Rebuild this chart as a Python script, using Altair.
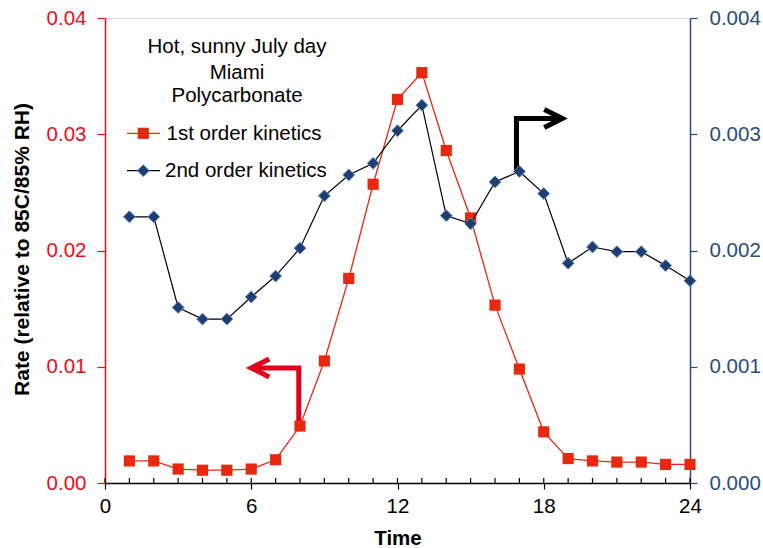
import altair as alt
import pandas as pd

# Hourly degradation rate for polycarbonate on a hot, sunny July day in Miami
hours = list(range(1, 25))
first_order = [0.0019, 0.0019, 0.0012, 0.0011, 0.0011, 0.0012, 0.0020, 0.0049,
               0.0105, 0.0176, 0.0257, 0.0330, 0.0353, 0.0286, 0.0228, 0.0153,
               0.0098, 0.0044, 0.0021, 0.0019, 0.0018, 0.0018, 0.0016, 0.0016]
second_order = [0.00229, 0.00229, 0.00151, 0.00141, 0.00141, 0.00160, 0.00178, 0.00202,
                0.00247, 0.00265, 0.00275, 0.00303, 0.00325, 0.00230, 0.00223, 0.00259,
                0.00268, 0.00249, 0.00189, 0.00203, 0.00199, 0.00199, 0.00187, 0.00174]

x_ticks = [0, 6, 12, 18, 24]
minor_ticks = list(range(0, 25))
left_ticks = [0.0, 0.01, 0.02, 0.03, 0.04]
right_ticks = [0.0, 0.001, 0.002, 0.003, 0.004]

# Pointer arrows: which axis each curve belongs to
red_arrow_x = [7.95, 7.95, 6.0]
red_arrow_y = [0.0053, 0.0099, 0.0099]
black_arrow_x = [16.88, 16.88, 18.76]
black_arrow_y = [0.00268, 0.003135, 0.003135]

note_lines = ["Hot, sunny July day", "Miami", "Polycarbonate"]
series_names = ["1st order kinetics", "2nd order kinetics"]

RED = "#E8290F"
AXIS_RED = "#E8101A"
NAVY = "#1F3E6E"
EDGE_BLUE = "#5B8BC9"
AXIS_BLUE = "#2B4C7E"
FONT = "Liberation Sans"
W, H = 585, 465

df = pd.DataFrame({"hour": hours, "first": first_order, "second": second_order})
red_arrow = pd.DataFrame({"hour": red_arrow_x, "first": red_arrow_y, "k": [0, 1, 2]})
black_arrow = pd.DataFrame({"hour": black_arrow_x, "second": black_arrow_y, "k": [0, 1, 2]})
minor_df = pd.DataFrame({"hour": minor_ticks})

x_axis = alt.Axis(values=x_ticks, format="d", tickSize=6, tickColor="black",
                  domainColor="black", domainWidth=1.5, tickWidth=1.2,
                  labelFontSize=20.5, labelFont=FONT, labelColor="black",
                  labelPadding=7, labelFlush=False, grid=False, title="Time",
                  titleFontSize=20.5, titleFont=FONT, titleFontWeight="bold",
                  titleY=55, titleBaseline="middle", titleColor="black")
x_scale = alt.Scale(domain=[0, 24], nice=False, zero=False)

left_axis = alt.Axis(values=left_ticks, format=".2f", tickSize=8, tickColor=AXIS_RED,
                     domainColor=AXIS_RED, domainWidth=1.5, tickWidth=1.2,
                     labelFontSize=20.5, labelFont=FONT, labelColor=AXIS_RED,
                     labelPadding=11, labelFlush=False, grid=False,
                     title="Rate (relative to 85C/85% RH)", titleFontSize=21,
                     titleFont=FONT, titleFontWeight="bold", titleColor="black",
                     titleX=-83, titleY=231, titleAngle=270, titleBaseline="middle")
right_axis = alt.Axis(values=right_ticks, format=".3f", orient="right", tickSize=7,
                      tickColor=AXIS_BLUE, domainColor=AXIS_BLUE, domainWidth=1.5,
                      tickWidth=1.2, labelFontSize=20.5, labelFont=FONT,
                      labelColor=AXIS_BLUE, labelPadding=12, labelFlush=False,
                      grid=False, title=None)

X = alt.X("hour:Q", scale=x_scale, axis=x_axis)
Y1 = alt.Y("first:Q", scale=alt.Scale(domain=[0, 0.04], nice=False), axis=left_axis)
Y2 = alt.Y("second:Q", scale=alt.Scale(domain=[0, 0.004], nice=False), axis=right_axis)

base = alt.Chart(df)

# --- first order series (left axis) ---
red_line = base.mark_line(color=RED, strokeWidth=1.3).encode(x=X, y=Y1)
red_arrow_line = alt.Chart(red_arrow).mark_line(
    color="#E0001B", strokeWidth=5, strokeJoin="miter", strokeCap="butt"
).encode(x=X, y=Y1, order="k:Q")
red_head = alt.Chart(red_arrow[red_arrow.k == 2]).mark_point(
    shape="M1,-0.5L0,0L1,0.5", size=1296, filled=False, color="#E0001B",
    strokeWidth=5, strokeJoin="miter", opacity=1
).encode(x=X, y=Y1)
red_points = base.mark_point(shape="square", size=125, filled=True, color=RED,
                             opacity=1).encode(x=X, y=Y1)
inner_ticks = alt.Chart(minor_df).mark_rule(color="black", strokeWidth=1.2).encode(
    x=X, y=alt.value(H - 5), y2=alt.value(H))

# --- in-plot legend and note ---
note_text = alt.layer(*[
    alt.Chart(pd.DataFrame({"t": [line]})).mark_text(
        font=FONT, fontSize=20.5, color="black", align="center", baseline="alphabetic"
    ).encode(text="t:N", x=alt.value(132), y=alt.value(yy))
    for line, yy in zip(note_lines, [35.3, 61, 84.3])
])
leg_red_line = alt.Chart(df.head(1)).mark_rule(color=RED, strokeWidth=1.3).encode(
    x=alt.value(22), x2=alt.value(55), y=alt.value(115.3))
leg_red_pt = alt.Chart(df.head(1)).mark_point(
    shape="square", size=125, filled=True, color=RED, opacity=1
).encode(x=alt.value(38.3), y=alt.value(115.3))
leg_red_txt = alt.Chart(pd.DataFrame({"t": [series_names[0]]})).mark_text(
    font=FONT, fontSize=20.5, color="black", align="left", baseline="alphabetic"
).encode(text="t:N", x=alt.value(61.5), y=alt.value(122))
leg_blue_line = alt.Chart(df.head(1)).mark_rule(color="black", strokeWidth=1.2).encode(
    x=alt.value(22), x2=alt.value(55), y=alt.value(152.7))
leg_blue_pt = alt.Chart(df.head(1)).mark_point(
    shape="diamond", size=140, filled=True, color=NAVY, stroke=EDGE_BLUE,
    strokeWidth=1, opacity=1
).encode(x=alt.value(38.3), y=alt.value(152.7))
leg_blue_txt = alt.Chart(pd.DataFrame({"t": [series_names[1]]})).mark_text(
    font=FONT, fontSize=20.5, color="black", align="left", baseline="alphabetic"
).encode(text="t:N", x=alt.value(60), y=alt.value(158.7))

red_group = alt.layer(
    inner_ticks, red_line, red_arrow_line, red_head, red_points,
    note_text, leg_red_line, leg_red_pt, leg_red_txt,
    leg_blue_line, leg_blue_pt, leg_blue_txt,
)

# --- second order series (right axis) ---
blue_line = base.mark_line(color="black", strokeWidth=1.2).encode(x=X, y=Y2)
black_arrow_line = alt.Chart(black_arrow).mark_line(
    color="black", strokeWidth=5, strokeJoin="miter", strokeCap="butt"
).encode(x=X, y=Y2, order="k:Q")
black_head = alt.Chart(black_arrow[black_arrow.k == 2]).mark_point(
    shape="M-1,-0.5L0,0L-1,0.5", size=1296, filled=False, color="black",
    strokeWidth=5, strokeJoin="miter", opacity=1
).encode(x=X, y=Y2)
blue_points = base.mark_point(shape="diamond", size=140, filled=True, color=NAVY,
                              stroke=EDGE_BLUE, strokeWidth=1, opacity=1).encode(x=X, y=Y2)

blue_group = alt.layer(blue_line, black_arrow_line, black_head, blue_points)

chart = alt.layer(red_group, blue_group).resolve_scale(y="independent").properties(
    width=W, height=H,
    padding={"left": 105, "top": 18, "right": 73, "bottom": 65},
    autosize=alt.AutoSizeParams(type="none"),
    background="white",
).configure_view(stroke="#404040", strokeWidth=1.5).configure(font=FONT)

chart.save("out.html", embed_options={"renderer": "svg", "actions": False})
